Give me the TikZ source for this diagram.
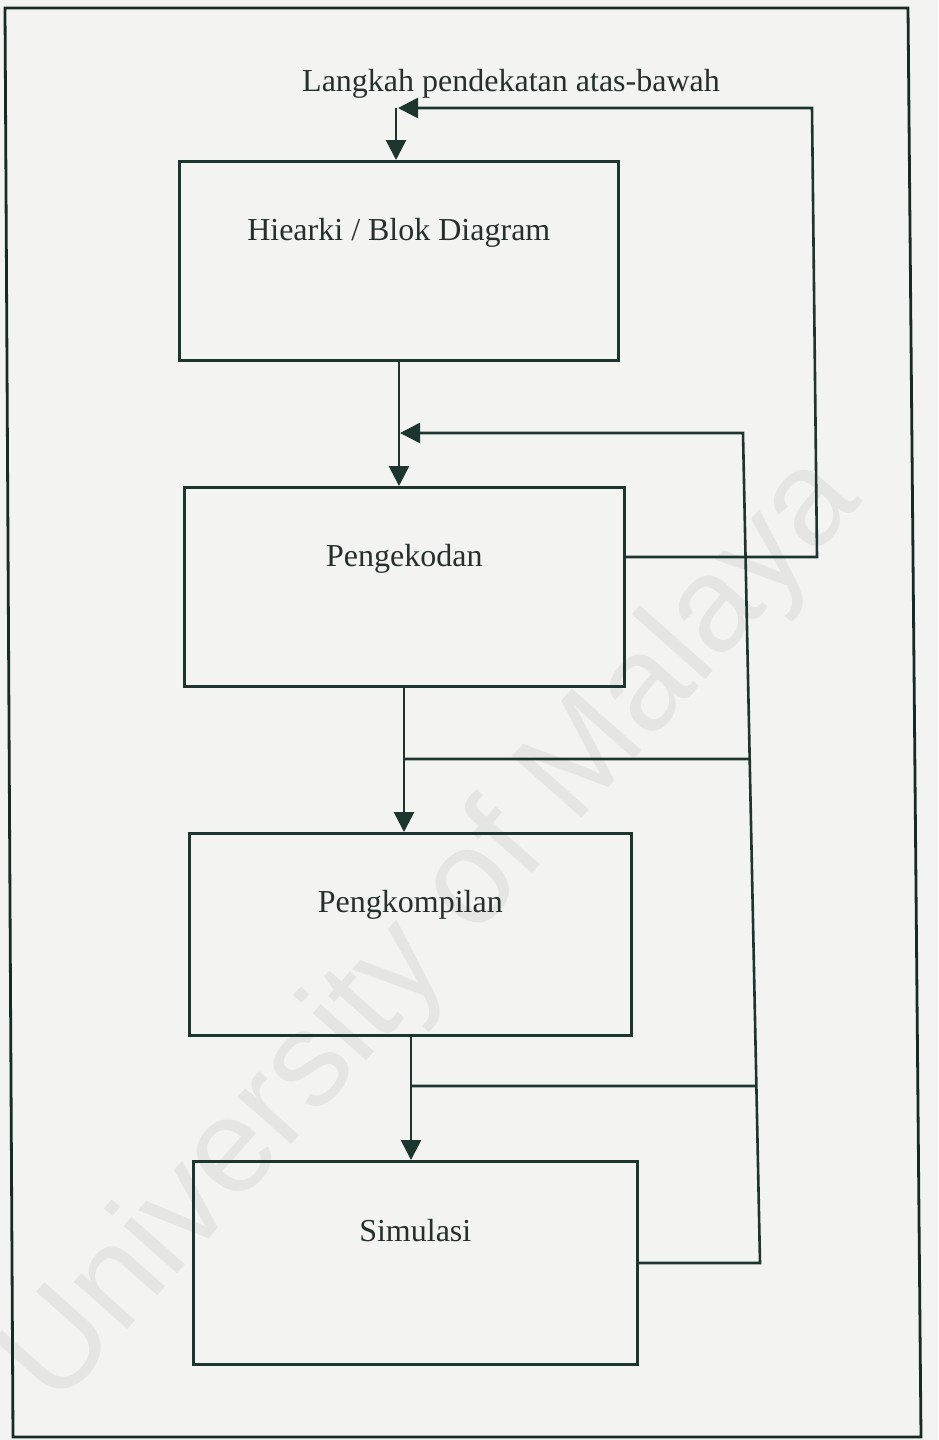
\documentclass[tikz,border=0pt]{standalone}
\usepackage{fontspec}
\setmainfont{Liberation Serif}
\newfontfamily\wmfont{Liberation Sans}
\usetikzlibrary{arrows.meta,calc}
\definecolor{bgc}{HTML}{F3F3F1}
\definecolor{ink}{HTML}{1C362F}
\definecolor{txt}{HTML}{25302C}
\definecolor{wmc}{HTML}{E5E5E4}
\tikzset{
  blockbox/.style={draw=ink, line width=2.6pt, rectangle, inner sep=0pt, anchor=north west},
  lbl/.style={text=txt, font=\fontsize{32}{38}\selectfont, inner sep=0pt, anchor=base},
  conn/.style={draw=ink, line width=2.6pt},
  arr/.style={conn, -{Triangle[length=20pt,width=20pt]}},
  frameline/.style={draw=ink!80!black, line width=2.8pt}
}
\begin{document}
\begin{tikzpicture}[x=1pt,y=-1pt]
\fill[bgc] (0,0) rectangle (938,1440);
\useasboundingbox (0,0) rectangle (938,1440);
% watermark
\node[text=wmc, font=\wmfont\fontsize{135}{135}\selectfont, rotate=48.4, inner sep=0pt] (wm) at (434,932) {University of Malaya};
% outer frame
\draw[frameline] (5,8) -- (908,8) -- (921,1437) -- (13,1437) -- cycle;
% boxes
\node[blockbox, minimum width=439pt, minimum height=199pt] (b1) at (178,160) {};
\node[blockbox, minimum width=440pt, minimum height=199pt] (b2) at (183,486) {};
\node[blockbox, minimum width=442pt, minimum height=202pt] (b3) at (188,832) {};
\node[blockbox, minimum width=444pt, minimum height=203pt] (b4) at (192,1160) {};
% labels
\node[lbl] (t0) at (511,91) {Langkah pendekatan atas-bawah};
\node[lbl] (t1) at ([yshift=-80pt]b1.north) {Hiearki / Blok Diagram};
\node[lbl] (t2) at ([yshift=-80pt]b2.north) {Pengekodan};
\node[lbl] (t3) at ([yshift=-80pt]b3.north) {Pengkompilan};
\node[lbl] (t4) at ([yshift=-81pt]b4.north) {Simulasi};
% coordinates
\coordinate (tj) at (396,108);
\coordinate (c1) at (812,108);
\coordinate (c2) at (817,557);
\coordinate (p2) at (623,557);
\coordinate (j2) at (400,433);
\coordinate (r1) at (743,433);
\coordinate (r4) at (760,1263);
\coordinate (p4) at (636,1263);
\coordinate (s1) at (399,359);
\coordinate (s2) at (404,685);
\coordinate (s3) at (411,1034);
\coordinate (h2) at (404,759);
\coordinate (h3) at (411,1086);
% top feedback
\draw[arr] (p2) -- (c2) -- (c1) -- ([xshift=2pt]tj);
\draw[arr] (tj) -- (tj |- b1.north);
% main flow
\draw[arr] (s1) -- (s1 |- b2.north);
\draw[arr] (s2) -- (s2 |- b3.north);
\draw[arr] (s3) -- (s3 |- b4.north);
% right feedback
\draw[arr] (p4) -- (r4) -- (r1) -- (j2);
\draw[conn] (h2) -- ($(r1)!0.3928!(r4)$);
\draw[conn] (h3) -- ($(r1)!0.7867!(r4)$);
\end{tikzpicture}
\end{document}
